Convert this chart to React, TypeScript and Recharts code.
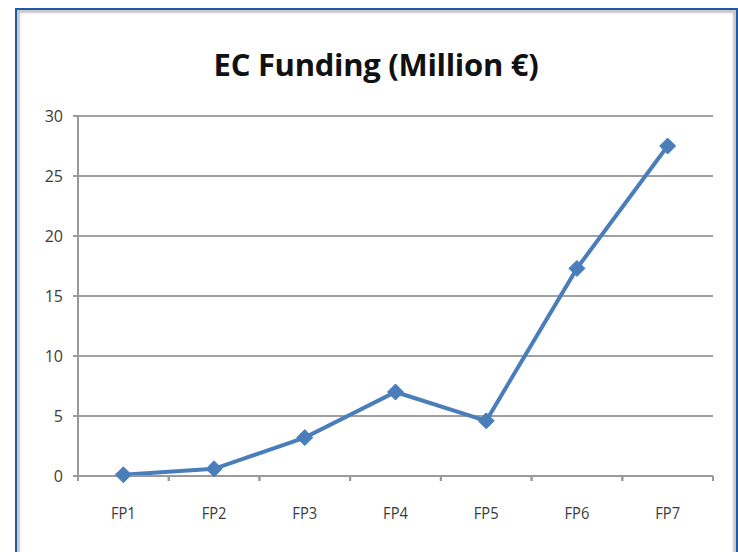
import { CartesianGrid, Line, LineChart, XAxis, YAxis } from 'recharts'

const programmes = ['FP1', 'FP2', 'FP3', 'FP4', 'FP5', 'FP6', 'FP7']
const funding = [0.1, 0.6, 3.2, 7.0, 4.6, 17.3, 27.5]
const yTicks = [0, 5, 10, 15, 20, 25, 30]

const data = programmes.map((name, i) => ({ name, funding: funding[i] }))

const font = '"Open Sans", sans-serif'
const half = (713 - 78) / 7 / 2

function CategoryTick(props: any) {
  const { x, y, payload } = props
  return (
    <g>
      <line x1={x - half} x2={x - half} y1={y - 8} y2={y - 3} stroke="#9a9a9a" strokeWidth={2} />
      <line x1={x + half} x2={x + half} y1={y - 8} y2={y - 3} stroke="#9a9a9a" strokeWidth={2} />
      <text x={x} y={y + 35} textAnchor="middle" fill="#3c3c3c" fontSize={16} fontFamily={font} transform={`translate(${x},0) scale(0.92,1) translate(${-x},0)`}>
        {payload.value}
      </text>
    </g>
  )
}

function Diamond(props: any) {
  const { cx, cy } = props
  if (cx == null || cy == null) return null
  const r = 8
  return (
    <path
      d={`M${cx},${cy - r}L${cx + r},${cy}L${cx},${cy + r}L${cx - r},${cy}Z`}
      fill="#4a7ebb"
      stroke="#4a7ebb"
    />
  )
}

export default function App() {
  return (
    <div style={{ position: 'absolute', left: 0, top: 0, width: 738, height: 552, background: '#fff', overflow: 'hidden' }}>
      <div
        style={{
          position: 'absolute',
          left: 15,
          top: 8,
          width: 719,
          height: 600,
          border: '2px solid #1e5aa8',
          boxShadow: 'inset 3px 3px 2px #c8c8c8, inset -3px 0 2px #c8c8c8',
        }}
      />
      <div
        style={{
          position: 'absolute',
          top: 43,
          left: 0,
          width: 752,
          textAlign: 'center',
          fontFamily: '"Open Sans", sans-serif',
          fontWeight: 700,
          fontSize: 31,
          color: '#111',
          letterSpacing: -0.3,
        }}
      >
        EC Funding (Million €)
      </div>
      <div style={{ position: 'absolute', left: 0, top: 0 }}>
        <LineChart width={738} height={552} data={data} margin={{ top: 116, right: 25, bottom: 46, left: 18 }}>
          <CartesianGrid vertical={false} stroke="#a0a0a0" strokeWidth={2} />
          <XAxis
            dataKey="name"
            scale="band"
            height={30}
            axisLine={{ stroke: '#9a9a9a', strokeWidth: 2 }}
            tickLine={false}
            tick={<CategoryTick />}
            interval={0}
          />
          <YAxis
            width={60}
            domain={[0, 30]}
            ticks={yTicks}
            axisLine={{ stroke: '#9a9a9a', strokeWidth: 2 }}
            tickLine={{ stroke: '#9a9a9a', strokeWidth: 2 }}
            tickSize={5}
            tick={{ fill: '#3c3c3c', fontSize: 16, fontFamily: font }}
            tickMargin={10}
          />
          <Line
            dataKey="funding"
            stroke="#4a7ebb"
            strokeWidth={4}
            dot={<Diamond />}
            activeDot={false}
            isAnimationActive={false}
          />
        </LineChart>
      </div>
    </div>
  )
}
